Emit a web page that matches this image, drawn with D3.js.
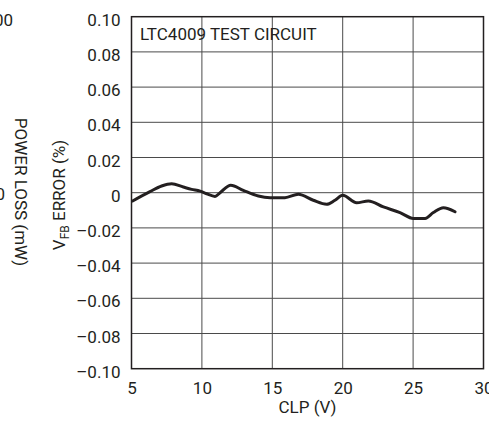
<!DOCTYPE html>
<html>
<head>
<meta charset="utf-8">
<script src="https://cdn.jsdelivr.net/npm/d3@7"></script>
<style>
    html, body { margin: 0; padding: 0; background: #ffffff; }
    svg { display: block; }
    text {
        font-family: "Liberation Sans Narrow", "Arial Narrow", "Roboto", sans-serif;
        fill: #231f20;
    }
</style>
</head>
<body>
<svg id="chart"></svg>
<script>
/* =========================================================
   Data (CLP voltage vs VFB error)
   ========================================================= */

const CLP_V = [
    5.08, 6.31, 7.14, 7.85, 8.68, 9.27, 9.87, 10.34, 10.93, 11.29,
    12.05, 12.94, 14.01, 14.84, 15.9, 16.85, 17.91, 18.86, 19.45, 20.0,
    20.99, 21.82, 22.89, 24.07, 25.02, 25.85, 26.44, 27.15, 27.98
];

const VFB_ERROR = [
    -0.0047, 0.0006, 0.0038, 0.0051, 0.0032, 0.0019, 0.0009, -0.0006, -0.0021, 0.0,
    0.0043, 0.0013, -0.0019, -0.0028, -0.0028, -0.0009, -0.0043, -0.0066, -0.0043, -0.0015,
    -0.0057, -0.0047, -0.0081, -0.0113, -0.0146, -0.0146, -0.0113, -0.0085, -0.0108
];

const X_TICKS = [5, 10, 15, 20, 25, 30];
const Y_TICKS = [-0.10, -0.08, -0.06, -0.04, -0.02, 0, 0.02, 0.04, 0.06, 0.08, 0.10];
const Y_TICK_LABELS = ["–0.10", "–0.08", "–0.06", "–0.04", "–0.02", "0",
                       "0.02", "0.04", "0.06", "0.08", "0.10"];

const TITLE   = "LTC4009 TEST CIRCUIT";
const X_LABEL = "CLP (V)";

/* =========================================================
   Layout constants
   ========================================================= */

const WIDTH  = 489;
const HEIGHT = 423;
const MARGIN = { top: 16.7, left: 131.5 };
const INNER  = 352;
const FONT_SIZE = 17;
const INK = "#231f20";

const svg = d3.select("#chart")
    .attr("width", WIDTH)
    .attr("height", HEIGHT);

/* =========================================================
   Neighbouring chart remnants (clipped at the left edge)
   ========================================================= */

svg.append("text")
    .attr("x", 13).attr("y", 26)
    .attr("text-anchor", "end")
    .attr("font-size", FONT_SIZE)
    .text("00");

svg.append("text")
    .attr("x", 5).attr("y", 200)
    .attr("text-anchor", "end")
    .attr("font-size", FONT_SIZE)
    .text("0");

svg.append("text")
    .attr("transform", "translate(15,192) rotate(90)")
    .attr("text-anchor", "middle")
    .attr("font-size", FONT_SIZE)
    .text("POWER LOSS (mW)");

/* =========================================================
   Scales
   ========================================================= */

const x = d3.scaleLinear().domain([5, 30]).range([0, INNER]);
const y = d3.scaleLinear().domain([-0.1, 0.1]).range([INNER, 0]);

const g = svg.append("g")
    .attr("transform", `translate(${MARGIN.left},${MARGIN.top})`);

/* =========================================================
   Grid
   ========================================================= */

g.append("g")
    .selectAll("line")
    .data(X_TICKS.slice(1, -1))
    .enter()
    .append("line")
    .attr("x1", d => x(d)).attr("x2", d => x(d))
    .attr("y1", 0).attr("y2", INNER)
    .attr("stroke", "#4a4a4a")
    .attr("stroke-width", 1);

g.append("g")
    .selectAll("line")
    .data(Y_TICKS.slice(1, -1))
    .enter()
    .append("line")
    .attr("x1", 0).attr("x2", INNER)
    .attr("y1", d => y(d)).attr("y2", d => y(d))
    .attr("stroke", "#4a4a4a")
    .attr("stroke-width", 1);

g.append("rect")
    .attr("width", INNER)
    .attr("height", INNER)
    .attr("fill", "none")
    .attr("stroke", INK)
    .attr("stroke-width", 1.5);

/* =========================================================
   Axes (labels only, grid carries the ticks)
   ========================================================= */

const xAxis = g.append("g")
    .attr("transform", `translate(0,${INNER})`)
    .call(d3.axisBottom(x).tickValues(X_TICKS).tickSize(0).tickPadding(13)
        .tickFormat(d3.format("d")));

const yAxis = g.append("g")
    .call(d3.axisLeft(y).tickValues(Y_TICKS).tickSize(0).tickPadding(11)
        .tickFormat((_, i) => Y_TICK_LABELS[i]));

[xAxis, yAxis].forEach(a => {
    a.select(".domain").remove();
    a.selectAll("text")
        .attr("font-size", FONT_SIZE)
        .attr("font-family", null)
        .attr("fill", INK);
});
yAxis.selectAll("text").attr("dy", "0.5em");

g.append("text")
    .attr("x", INNER / 2)
    .attr("y", INNER + 44)
    .attr("text-anchor", "middle")
    .attr("font-size", FONT_SIZE)
    .text(X_LABEL);

const yLabel = svg.append("text")
    .attr("transform", "translate(65,195) rotate(-90)")
    .attr("text-anchor", "middle")
    .attr("font-size", FONT_SIZE);
yLabel.append("tspan").text("V");
yLabel.append("tspan").attr("font-size", 12).attr("dy", 4).text("FB");
yLabel.append("tspan").attr("dy", -4).text(" ERROR (%)");

/* =========================================================
   Title and curve
   ========================================================= */

g.append("text")
    .attr("x", 8.5)
    .attr("y", 23.5)
    .attr("font-size", FONT_SIZE)
    .text(TITLE);

const line = d3.line()
    .x((_, i) => x(CLP_V[i]))
    .y(v => y(v))
    .curve(d3.curveMonotoneX);

g.append("path")
    .datum(VFB_ERROR)
    .attr("fill", "none")
    .attr("stroke", INK)
    .attr("stroke-width", 3)
    .attr("stroke-linejoin", "round")
    .attr("stroke-linecap", "round")
    .attr("d", line);
</script>
</body>
</html>
